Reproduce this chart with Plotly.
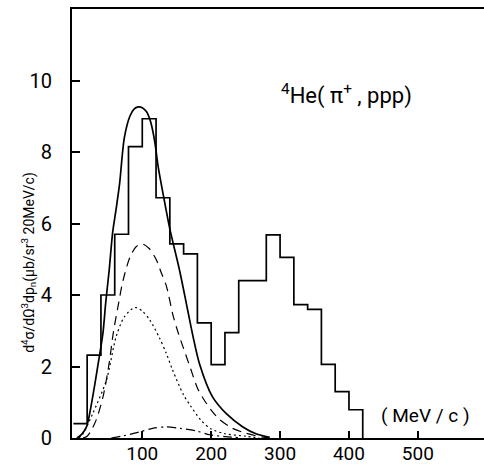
import plotly.graph_objects as go

# Histogram (20 MeV/c bins)
bin_left = [0, 20, 40, 60, 80, 100, 120, 140, 160, 180, 200, 220, 240, 260,
            280, 300, 320, 340, 360, 380, 400, 420]
counts = [0.40, 2.32, 4.00, 5.70, 8.15, 8.93, 6.72, 5.43, 5.15, 3.22, 2.05,
          2.95, 4.40, 4.40, 5.68, 5.05, 3.73, 3.60, 2.06, 1.30, 0.79, 0.0]

# Calculated curves
total_p = [5, 12, 19, 28, 36, 43, 47, 52, 57, 62, 67, 74, 82, 88, 94, 100, 106,
           112, 118, 123, 131, 140, 154, 164, 173, 183, 202, 222, 246, 265, 285]
total_v = [0.0, 0.1, 0.31, 1.15, 2.08, 2.95, 3.8, 4.7, 5.75, 6.4, 7.1, 8.4, 9.0,
           9.2, 9.26, 9.24, 9.13, 8.85, 8.3, 7.6, 6.75, 5.85, 4.7, 3.76, 2.9,
           2.08, 1.15, 0.68, 0.31, 0.12, 0.02]

dash_p = [14, 20, 25, 33, 43, 52, 58, 65, 72, 82, 91, 100, 110, 120, 128, 135,
          145, 152, 160, 170, 180, 188, 200, 212, 230, 246, 265, 285]
dash_v = [0.0, 0.05, 0.18, 0.5, 1.15, 2.1, 2.95, 3.7, 4.4, 5.05, 5.35, 5.43,
          5.3, 5.0, 4.6, 4.25, 3.4, 2.95, 2.5, 1.95, 1.4, 1.12, 0.78, 0.52,
          0.28, 0.16, 0.06, 0.0]

dot_p = [8, 14, 28, 48, 62, 74, 89, 100, 111, 125, 135, 144, 160, 170, 185,
         200, 220, 250, 270]
dot_v = [0.0, 0.12, 0.68, 1.62, 2.83, 3.39, 3.65, 3.55, 3.3, 2.8, 2.36, 1.9,
         1.2, 0.9, 0.5, 0.25, 0.12, 0.05, 0.0]

dd_p = [55, 70, 96, 115, 135, 155, 178, 198, 220, 241]
dd_v = [0.0, 0.05, 0.17, 0.27, 0.31, 0.27, 0.2, 0.09, 0.04, 0.01]

x_ticks = [100, 200, 300, 400, 500]
y_ticks = [0, 2, 4, 6, 8, 10]

FONT = "Roboto"

fig = go.Figure()
fig.add_trace(go.Scatter(x=bin_left, y=counts, mode="lines",
                         line=dict(shape="hv", color="black", width=1.7),
                         hoverinfo="skip"))
fig.add_trace(go.Scatter(x=total_p, y=total_v, mode="lines",
                         line=dict(shape="spline", smoothing=0.8, color="black", width=1.7)))
fig.add_trace(go.Scatter(x=dash_p, y=dash_v, mode="lines",
                         line=dict(shape="spline", smoothing=0.8, color="black", width=1.2,
                                   dash="9px,6px")))
fig.add_trace(go.Scatter(x=dot_p, y=dot_v, mode="lines",
                         line=dict(shape="spline", smoothing=0.8, color="black", width=1.2,
                                   dash="2px,3px")))
fig.add_trace(go.Scatter(x=dd_p, y=dd_v, mode="lines",
                         line=dict(shape="spline", smoothing=0.8, color="black", width=1.2,
                                   dash="9px,4px,2px,4px")))

fig.update_layout(
    width=484, height=466,
    margin=dict(l=72, r=0, t=9, b=28),
    paper_bgcolor="white", plot_bgcolor="white",
    showlegend=False,
    font=dict(family=FONT, color="black", size=20),
    xaxis=dict(range=[-2, 596], showgrid=False, zeroline=False, automargin=False,
               showline=True, mirror=True, linecolor="black", linewidth=2,
               ticks="inside", ticklen=7, tickwidth=1.5, tickcolor="black",
               tickvals=x_ticks, ticktext=[str(v) for v in x_ticks],
               ticklabelstandoff=-3,
               tickfont=dict(family=FONT, size=19)),
    yaxis=dict(range=[0, 12], showgrid=False, zeroline=False, automargin=False,
               showline=True, mirror=False, linecolor="black", linewidth=2,
               ticks="inside", ticklen=8, tickwidth=1.5, tickcolor="black",
               tickvals=y_ticks, ticktext=[str(v) for v in y_ticks],
               ticklabelstandoff=14,
               tickfont=dict(family=FONT, size=20)),
)

fig.add_annotation(x=299, y=9.6, xref="x", yref="y", xanchor="left", yanchor="middle",
                   text="<sup>4</sup>He( π<sup>+</sup> , ppp)", showarrow=False,
                   font=dict(family=FONT, size=22, color="black"))
fig.add_annotation(x=444, y=0.64, xref="x", yref="y", xanchor="left", yanchor="middle",
                   text="( MeV / c )", showarrow=False,
                   font=dict(family=FONT, size=19, color="black"))
fig.add_annotation(x=-0.105, y=0.41, xref="paper", yref="paper", xanchor="center",
                   yanchor="middle", textangle=-90,
                   text="d<sup>4</sup>σ/dΩ<sup>3</sup>dp<sub>n</sub>(μb/sr<sup>3</sup> 20MeV/c)",
                   showarrow=False, font=dict(family=FONT, size=14, color="black"))

fig.write_html("out.html", config={"displayModeBar": False},
               post_script="document.body.style.margin='0';document.body.style.overflow='hidden';")
